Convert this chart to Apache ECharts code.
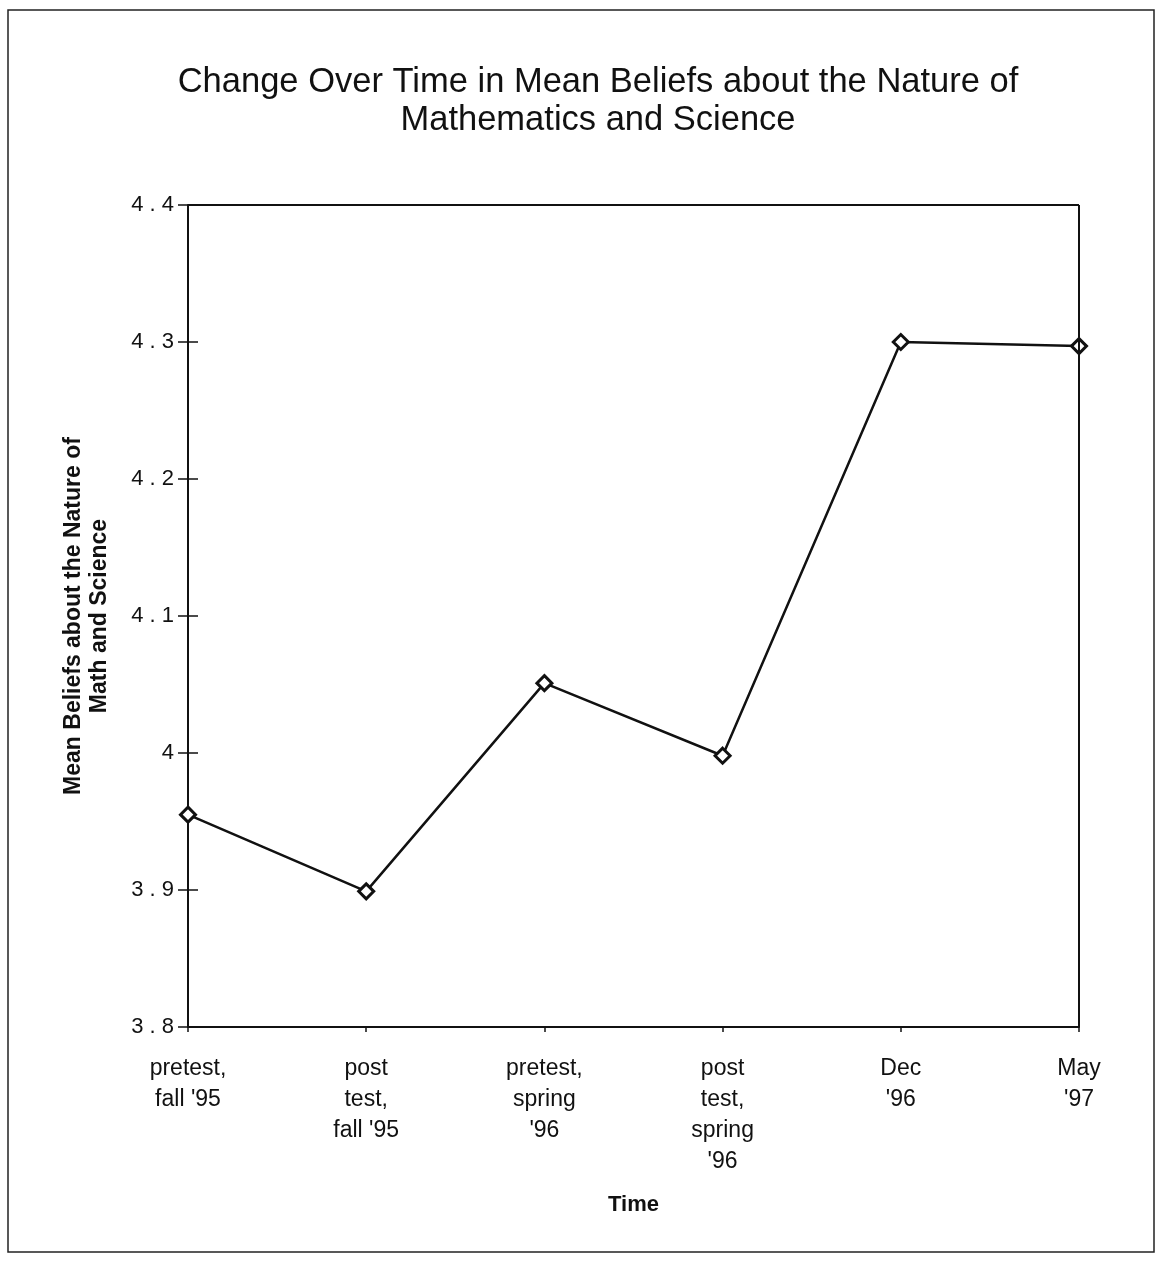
<!DOCTYPE html>
<html>
<head>
<meta charset="utf-8">
<script src="https://cdn.jsdelivr.net/npm/echarts@6/dist/echarts.min.js"></script>
<style>
html,body{margin:0;padding:0;background:#fff;}
#chart{width:1166px;height:1270px;}
</style>
</head>
<body>
<div id="chart"></div>
<script>
const categories = ["pretest,\nfall '95", "post\ntest,\nfall '95", "pretest,\nspring\n'96", "post\ntest,\nspring\n'96", "Dec\n'96", "May\n'97"];
const meanBeliefs = [3.955, 3.899, 4.051, 3.998, 4.300, 4.297];
const yTicks = [3.8, 3.9, 4.0, 4.1, 4.2, 4.3, 4.4];

const chart = echarts.init(document.getElementById('chart'), null, {renderer: 'canvas'});
const font = "'Liberation Sans', Arial, sans-serif";
const fmtY = v => { const t = yTicks.find(x => Math.abs(x - v) < 1e-6); return t === undefined ? '' : String(+t.toFixed(1)).split('').join(' '); };
chart.setOption({
  backgroundColor: '#fff',
  animation: false,
  title: {
    text: 'Change Over Time in Mean Beliefs about the Nature of\nMathematics and Science',
    left: 593, top: 58, textAlign: 'center',
    textStyle: {fontFamily: font, fontSize: 34.5, fontWeight: 'normal', color: '#111', lineHeight: 38}
  },
  graphic: [{
    type: 'rect', shape: {x: 8, y: 10, width: 1146, height: 1242},
    style: {fill: 'none', stroke: '#222', lineWidth: 1.5}, silent: true
  }],
  grid: {left: 188, right: 87, top: 205, bottom: 243},
  xAxis: {
    type: 'category', data: categories, boundaryGap: false,
    name: 'Time', nameLocation: 'middle', nameGap: 167,
    nameTextStyle: {fontFamily: font, fontSize: 22, fontWeight: 'bold', color: '#111'},
    axisLine: {show: true, lineStyle: {color: '#111', width: 2}},
    axisTick: {show: true, length: 5, inside: false, lineStyle: {color: '#111', width: 1.5}},
    axisLabel: {fontFamily: font, fontSize: 23, color: '#111', margin: 26, lineHeight: 31, interval: 0},
    splitLine: {show: false}
  },
  yAxis: [{
    type: 'value', min: 3.8, max: 4.4, interval: 0.1,
    name: 'Mean Beliefs about the Nature of\nMath and Science', nameLocation: 'middle', nameGap: 75, nameRotate: 90,
    nameTextStyle: {fontFamily: font, fontSize: 23, fontWeight: 'bold', color: '#111', lineHeight: 26},
    axisLine: {show: true, lineStyle: {color: '#111', width: 2}},
    axisTick: {show: true, length: 10, lineStyle: {color: '#111', width: 1.5}},
    axisLabel: {fontFamily: font, fontSize: 22, color: '#111', margin: 14, formatter: fmtY},
    splitLine: {show: false}
  }, {
    type: 'value', min: 3.8, max: 4.4, interval: 0.1, position: 'left', offset: -10,
    axisLine: {show: true, lineStyle: {color: 'rgba(0,0,0,0)', width: 0}},
    axisTick: {show: true, length: 10, lineStyle: {color: '#111', width: 1.5}},
    axisLabel: {show: false}, splitLine: {show: false}
  }],
  series: [{
    type: 'line', data: meanBeliefs, yAxisIndex: 0, z: 3,
    symbol: 'diamond', symbolSize: 15,
    lineStyle: {color: '#111', width: 2.5},
    itemStyle: {color: '#fff', borderColor: '#111', borderWidth: 3}
  }, {
    type: 'line', yAxisIndex: 1, data: meanBeliefs, z: 1,
    showSymbol: false, silent: true,
    lineStyle: {color: 'rgba(0,0,0,0)', width: 0},
    markLine: {
      silent: true, symbol: 'none', label: {show: false},
      lineStyle: {color: '#111', width: 2, type: 'solid'},
      data: [[{xAxis: 0, yAxis: 4.4}, {xAxis: 5, yAxis: 4.4}],
             [{xAxis: 5, yAxis: 3.8}, {xAxis: 5, yAxis: 4.4}]]
    }
  }]
});
</script>
</body>
</html>
